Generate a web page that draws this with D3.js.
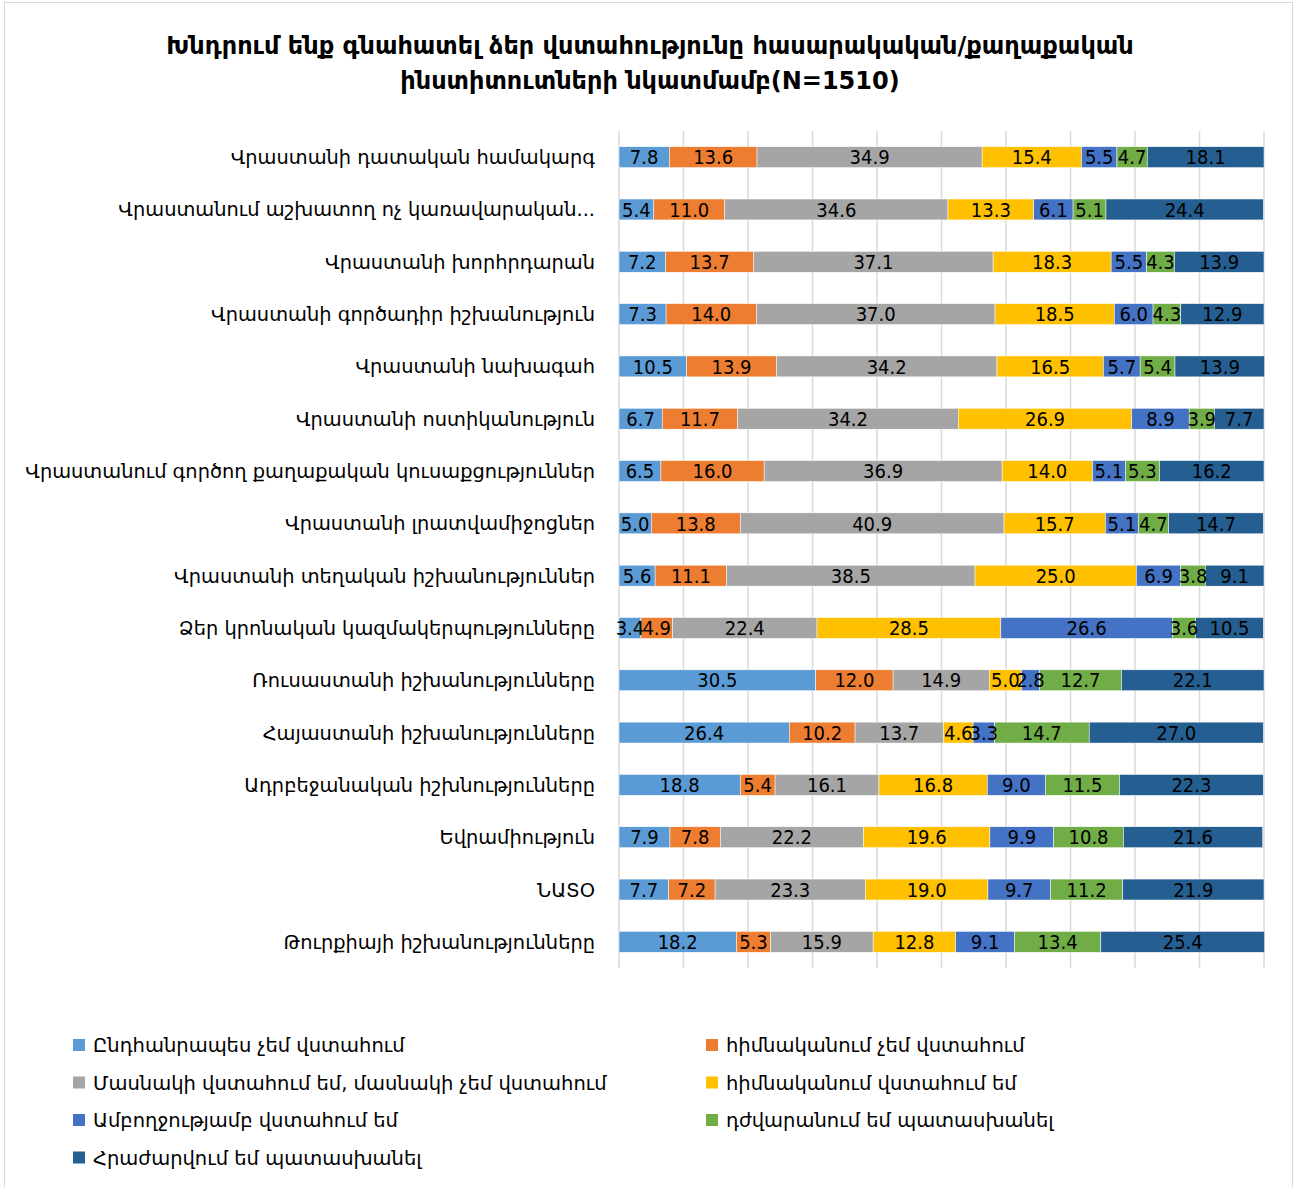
<!DOCTYPE html>
<html>
<head>
    <meta charset="utf-8">
    <style>
        body { margin: 0; background: #fff; }
        text { font-family: "DejaVu Sans", sans-serif; }
        .title { font-weight: bold; font-size: 24px; text-anchor: middle; }
        .cat { font-size: 19.4px; text-anchor: end; fill: #000; }
        .val { font-family: "DejaVu Sans Condensed", "DejaVu Sans", sans-serif; font-size: 20px; text-anchor: middle; fill: #000; }
        .leg { font-size: 19.5px; fill: #000; }
    </style>
    <script src="https://d3js.org/d3.v7.min.js"></script>
</head>
<body>
    <script>
        var categories = [
            "Վրաստանի դատական համակարգ",
            "Վրաստանում աշխատող ոչ կառավարական...",
            "Վրաստանի խորհրդարան",
            "Վրաստանի գործադիր իշխանություն",
            "Վրաստանի նախագահ",
            "Վրաստանի ոստիկանություն",
            "Վրաստանում գործող քաղաքական կուսաքցություններ",
            "Վրաստանի լրատվամիջոցներ",
            "Վրաստանի տեղական իշխանություններ",
            "Ձեր կրոնական կազմակերպությունները",
            "Ռուսաստանի իշխանությունները",
            "Հայաստանի իշխանությունները",
            "Ադրբեջանական իշխնությունները",
            "Եվրամիություն",
            "ՆԱՏՕ",
            "Թուրքիայի իշխանությունները"
        ];

        var seriesNames = [
            "Ընդհանրապես չեմ վստահում",
            "հիմնականում չեմ վստահում",
            "Մասնակի վստահում եմ, մասնակի չեմ վստահում",
            "հիմնականում վստահում եմ",
            "Ամբողջությամբ վստահում եմ",
            "դժվարանում եմ պատասխանել",
            "Հրաժարվում եմ պատասխանել"
        ];

        var colors = ["#5b9bd5", "#ed7d31", "#a5a5a5", "#ffc000", "#4472c4", "#70ad47", "#255e91"];

        // one array per series, same order as categories
        var notAtAll   = [7.8, 5.4, 7.2, 7.3, 10.5, 6.7, 6.5, 5.0, 5.6, 3.4, 30.5, 26.4, 18.8, 7.9, 7.7, 18.2];
        var mostlyNot  = [13.6, 11.0, 13.7, 14.0, 13.9, 11.7, 16.0, 13.8, 11.1, 4.9, 12.0, 10.2, 5.4, 7.8, 7.2, 5.3];
        var partly     = [34.9, 34.6, 37.1, 37.0, 34.2, 34.2, 36.9, 40.9, 38.5, 22.4, 14.9, 13.7, 16.1, 22.2, 23.3, 15.9];
        var mostly     = [15.4, 13.3, 18.3, 18.5, 16.5, 26.9, 14.0, 15.7, 25.0, 28.5, 5.0, 4.6, 16.8, 19.6, 19.0, 12.8];
        var fully      = [5.5, 6.1, 5.5, 6.0, 5.7, 8.9, 5.1, 5.1, 6.9, 26.6, 2.8, 3.3, 9.0, 9.9, 9.7, 9.1];
        var hardToSay  = [4.7, 5.1, 4.3, 4.3, 5.4, 3.9, 5.3, 4.7, 3.8, 3.6, 12.7, 14.7, 11.5, 10.8, 11.2, 13.4];
        var refused    = [18.1, 24.4, 13.9, 12.9, 13.9, 7.7, 16.2, 14.7, 9.1, 10.5, 22.1, 27.0, 22.3, 21.6, 21.9, 25.4];

        var seriesValues = [notAtAll, mostlyNot, partly, mostly, fully, hardToSay, refused];

        var width = 1294, height = 1187;
        var margin = { left: 619, right: 30, top: 131, bottom: 219 };

        var svg = d3.select("body").append("svg")
            .attr("width", width)
            .attr("height", height);

        svg.append("rect")
            .attr("x", 4.5).attr("y", 2.5)
            .attr("width", 1288).attr("height", 1200)
            .attr("fill", "#fff")
            .attr("stroke", "#d9d9d9");

        var title = svg.append("text").attr("class", "title");
        title.append("tspan").attr("x", 650).attr("y", 54)
            .text("Խնդրում ենք գնահատել ձեր վստահությունը հասարակական/քաղաքական");
        title.append("tspan").attr("x", 650).attr("y", 89)
            .text("ինստիտուտների նկատմամբ(N=1510)");

        var rows = categories.map(function(c, i) {
            var r = { cat: c };
            seriesNames.forEach(function(s, j) { r[s] = seriesValues[j][i]; });
            return r;
        });

        var stack = d3.stack().keys(seriesNames);
        var stacked = stack(rows);

        var x = d3.scaleLinear().domain([0, 100]).range([margin.left, width - margin.right]);
        var y = d3.scaleBand().domain(categories)
            .range([margin.top, height - margin.bottom])
            .paddingInner(0.6).paddingOuter(0.3);

        // vertical gridlines
        svg.append("g")
            .selectAll("line")
            .data(d3.range(0, 101, 10))
            .enter().append("line")
            .attr("x1", function(d) { return x(d); })
            .attr("x2", function(d) { return x(d); })
            .attr("y1", margin.top)
            .attr("y2", height - margin.bottom)
            .attr("stroke", "#d9d9d9")
            .attr("stroke-width", 1.5);

        var layer = svg.append("g").selectAll("g")
            .data(stacked)
            .enter().append("g")
            .attr("fill", function(d, i) { return colors[i]; });

        layer.selectAll("rect")
            .data(function(d) { return d; })
            .enter().append("rect")
            .attr("x", function(d) { return x(d[0]); })
            .attr("y", function(d) { return y(d.data.cat); })
            .attr("width", function(d) { return x(d[1]) - x(d[0]); })
            .attr("height", y.bandwidth())
            .attr("stroke", "#fff")
            .attr("stroke-width", 0.5);

        var labels = svg.append("g").selectAll("g")
            .data(stacked)
            .enter().append("g");

        labels.selectAll("text")
            .data(function(d) { return d; })
            .enter().append("text")
            .attr("class", "val")
            .attr("x", function(d) { return (x(d[0]) + x(d[1])) / 2; })
            .attr("y", function(d) { return y(d.data.cat) + y.bandwidth() / 2; })
            .attr("dy", "0.36em")
            .text(function(d) { return (d[1] - d[0]).toFixed(1); });

        // category axis labels
        svg.append("g").selectAll("text")
            .data(categories)
            .enter().append("text")
            .attr("class", "cat")
            .attr("x", 595)
            .attr("y", function(d) { return y(d) + y.bandwidth() / 2; })
            .attr("dy", "0.36em")
            .text(function(d) { return d; });

        // legend
        var legend = svg.append("g").selectAll("g")
            .data(seriesNames)
            .enter().append("g")
            .attr("transform", function(d, i) {
                var col = i % 2, row = Math.floor(i / 2);
                return "translate(" + (col === 0 ? 73 : 706) + "," + (1045 + row * 37.5) + ")";
            });

        legend.append("rect")
            .attr("x", 0).attr("y", -6)
            .attr("width", 12).attr("height", 12)
            .attr("fill", function(d, i) { return colors[i]; });

        legend.append("text")
            .attr("class", "leg")
            .attr("x", 20)
            .attr("dy", "0.36em")
            .text(function(d) { return d; });
    </script>
</body>
</html>
